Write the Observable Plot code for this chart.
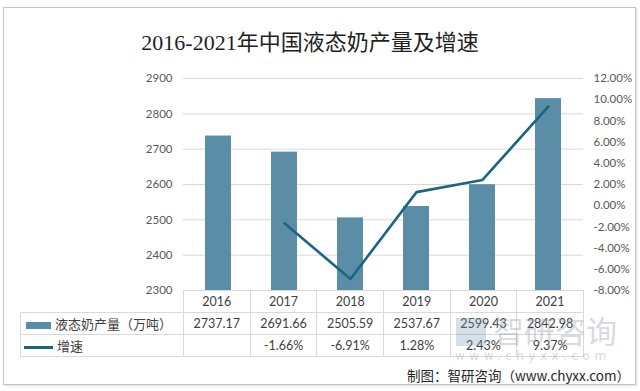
<!DOCTYPE html>
<html>
<head>
<meta charset="utf-8">
<script src="https://cdn.jsdelivr.net/npm/d3@7"></script>
<script src="https://cdn.jsdelivr.net/npm/@observablehq/plot@0.6"></script>
<style>
  html, body { margin: 0; padding: 0; background: #fff; }
  #wrap { position: relative; width: 640px; height: 391px; overflow: hidden; background: #fff; font-family: Lato, "Noto Sans CJK SC", sans-serif; }
  #frame { position: absolute; left: 3px; top: 7px; width: 631px; height: 376px; border: 1.5px solid #c4c4c4; box-shadow: 1px 1px 2px #ddd; }
  #title { position: absolute; top: 24px; left: 0; width: 620px; text-align: center; font-family: "Liberation Serif", "Noto Sans CJK SC", serif; font-size: 22px; color: #1f1f1f; }
  #chart { position: absolute; left: 0; top: 0; }
  #tbl { position: absolute; left: 20px; top: 290px; border-collapse: collapse; table-layout: fixed; font-size: 12.5px; color: #404040; }
  #tbl td { border: 1px solid #d9d9d9; height: 21px; padding: 0; text-align: center; white-space: nowrap; }
  #tbl td.blank { border: none; }
  #tbl td.lab { text-align: left; font-family: "Noto Sans CJK SC", sans-serif; font-size: 13px; }
  .sw { display: inline-block; vertical-align: middle; margin-right: 4px; }
  #wm1 { position: absolute; left: 493px; top: 307px; font-family: "Noto Sans CJK SC", sans-serif; font-size: 31px; color: rgba(150,160,170,0.4); }
  #wm2 { position: absolute; left: 455px; top: 349px; font-family: "DejaVu Sans", sans-serif; font-size: 12px; color: rgba(150,160,170,0.4); letter-spacing: 4.5px; }
  #wmlogo { position: absolute; left: 456px; top: 318px; width: 30px; height: 28px; background: rgba(120,150,180,0.3); }
  #cap { position: absolute; right: 10px; top: 365px; font-family: "Noto Sans CJK SC", sans-serif; font-size: 13.5px; color: #262626; }
</style>
</head>
<body>
<div id="wrap">
  <div id="frame"></div>
  <div id="title">2016-2021年中国液态奶产量及增速</div>
  <div id="chart"></div>
  <table id="tbl"></table>
  <div id="wmlogo"></div>
  <div id="wm1">智研咨询</div>
  <div id="wm2">www.chyxx.com</div>
  <div id="cap">制图：智研咨询（www.chyxx.com）</div>
</div>
<script>
const years = ["2016", "2017", "2018", "2019", "2020", "2021"];
const output = [2737.17, 2691.66, 2505.59, 2537.67, 2599.43, 2842.98];
const growth = [null, -1.66, -6.91, 1.28, 2.43, 9.37];
const leftTicks = [2300, 2400, 2500, 2600, 2700, 2800, 2900];
const rightTicks = [-8, -6, -4, -2, 0, 2, 4, 6, 8, 10, 12];
const seriesNames = ["液态奶产量（万吨）", "增速"];

const barColor = "#5b8da6";
const lineColor = "#1b6584";

// map growth % onto left axis units (right axis -8%..12% ↔ 2300..2900)
const toLeft = p => 2300 + (p + 8) / 20 * 600;

const barData = years.map((y, i) => ({year: y, value: output[i]}));
const lineData = years.map((y, i) => ({year: y, g: growth[i]})).filter(d => d.g != null);

const chart = Plot.plot({
  width: 640,
  height: 300,
  marginTop: 78,
  marginBottom: 10,
  marginLeft: 183,
  marginRight: 57,
  style: {fontFamily: "Lato, sans-serif", fontSize: "11.5px", color: "#595959", background: "transparent"},
  x: {domain: years, paddingInner: 0.61, paddingOuter: 0.305, axis: null},
  y: {domain: [2300, 2900]},
  marks: [
    Plot.gridY(leftTicks, {stroke: "#d9d9d9", strokeOpacity: 1}),
    Plot.axisY(leftTicks, {anchor: "left", tickSize: 0, tickPadding: 11, tickFormat: d => String(d), label: null}),
    Plot.axisY(rightTicks.map(toLeft), {anchor: "right", tickSize: 0, tickPadding: 10,
      tickFormat: (d, i) => rightTicks[i].toFixed(2) + "%", label: null}),
    Plot.barY(barData, {x: "year", y1: 2300, y2: "value", fill: barColor}),
    Plot.line(lineData, {x: "year", y: d => toLeft(d.g), stroke: lineColor, strokeWidth: 2.6})
  ]
});
document.getElementById("chart").appendChild(chart);

// data table under the chart
const tbl = document.getElementById("tbl");
const colW = [163].concat(years.map(() => 400 / 6));
const cg = document.createElement("colgroup");
colW.forEach(w => { const c = document.createElement("col"); c.style.width = w + "px"; cg.appendChild(c); });
tbl.appendChild(cg);
function row(cells) {
  const tr = document.createElement("tr");
  cells.forEach(c => tr.appendChild(c));
  tbl.appendChild(tr);
}
function td(text, cls) {
  const t = document.createElement("td");
  if (cls) t.className = cls;
  if (text != null) t.textContent = text;
  return t;
}
row([td(null, "blank")].concat(years.map(y => td(y))));
const l1 = td(null, "lab");
l1.innerHTML = `<span class="sw" style="width:25px;height:7px;background:${barColor};margin-left:5px"></span>${seriesNames[0]}`;
row([l1].concat(output.map(v => td(v.toFixed(2)))));
const l2 = td(null, "lab");
l2.innerHTML = `<span class="sw" style="width:29px;height:3px;background:${lineColor};margin-left:3px"></span>${seriesNames[1]}`;
row([l2].concat(growth.map(g => td(g == null ? "" : g.toFixed(2) + "%"))));
</script>
</body>
</html>
